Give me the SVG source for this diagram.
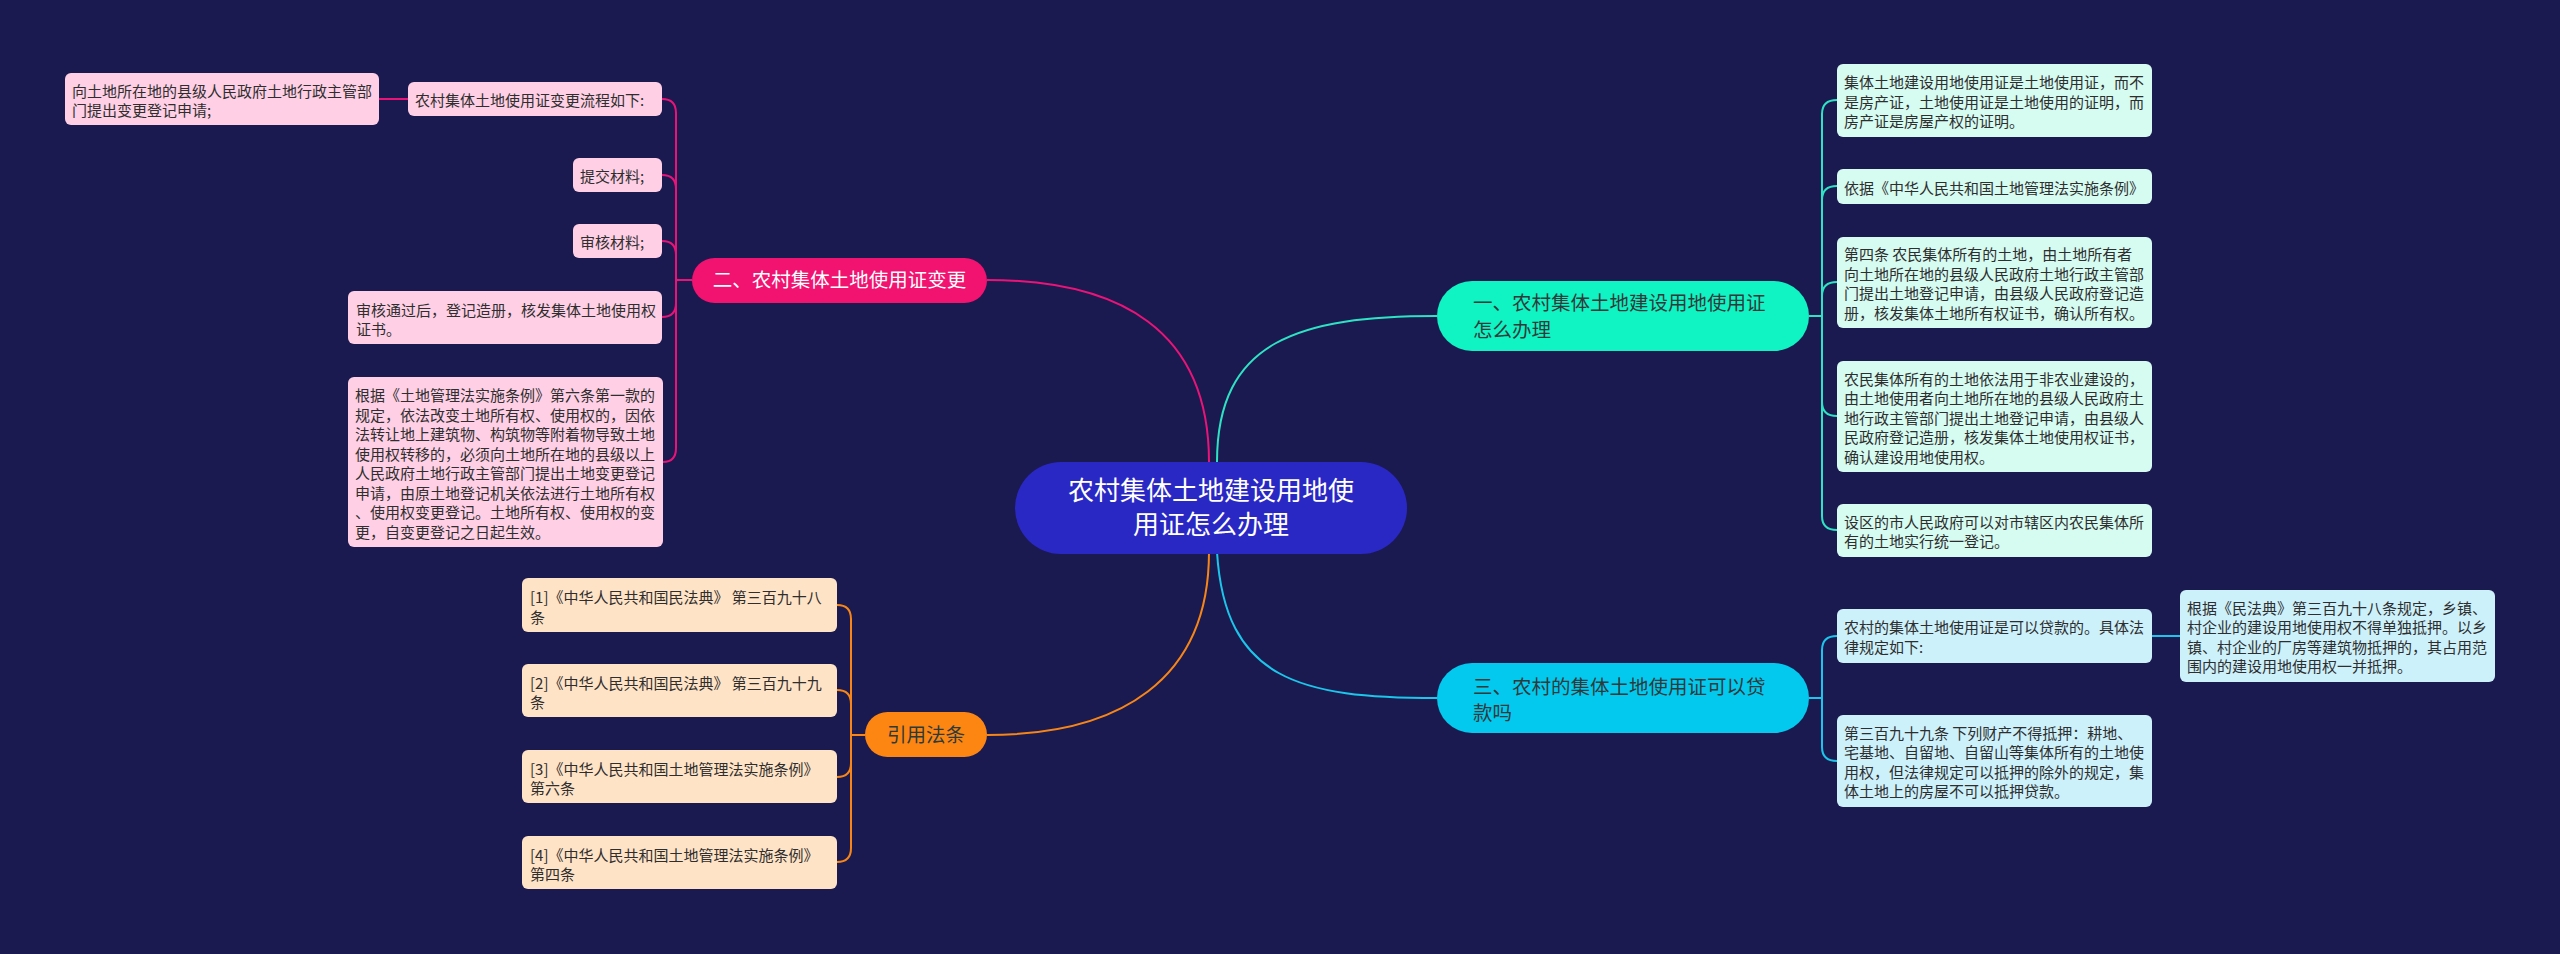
<svg xmlns="http://www.w3.org/2000/svg" width="2560" height="954" viewBox="0 0 2560 954">
<style>
text{font-family:"Noto Sans CJK SC","Noto Sans",sans-serif;}
.c{font-size:15px;fill:#2e2e2e;}
.b{font-size:19.5px;fill:#2e3a3a;}
.pk{fill:#ffd0e5;}
.tl{fill:#d6fbf1;}
.cy{fill:#cdf1fb;}
.or{fill:#ffe3c6;}
.lp{fill:none;stroke:#ea1478;stroke-width:2;}
.lt{fill:none;stroke:#2ee3c3;stroke-width:2;}
.lc{fill:none;stroke:#1cc6ea;stroke-width:2;}
.lo{fill:none;stroke:#f88617;stroke-width:2;}
</style>
<rect width="2560" height="954" fill="#1a1a50"/>
<g id="connectors">
<path class="lp" d="M1209,462 C1209,330 1120,280 987,280"/>
<path class="lt" d="M1217,462 C1217,340 1300,316 1437,316"/>
<path class="lc" d="M1217,552 C1225,680 1300,698 1437,698"/>
<path class="lo" d="M1209,552 C1209,680 1120,735 987,735"/>
<path class="lp" d="M692,280 L676,280"/>
<path class="lp" d="M676,280 L676,113 Q676,99 662,99"/>
<path class="lp" d="M676,280 L676,189 Q676,175 662,175"/>
<path class="lp" d="M676,280 L676,255 Q676,241 662,241"/>
<path class="lp" d="M676,280 L676,303 Q676,317 662,317"/>
<path class="lp" d="M676,280 L676,448 Q676,462 663,462"/>
<path class="lp" d="M408,99 L379,99"/>
<path class="lt" d="M1809,316 L1822,316"/>
<path class="lt" d="M1822,316 L1822,114 Q1822,100 1837,100"/>
<path class="lt" d="M1822,316 L1822,200 Q1822,186 1837,186"/>
<path class="lt" d="M1822,316 L1822,296 Q1822,282 1837,282"/>
<path class="lt" d="M1822,316 L1822,402 Q1822,416 1837,416"/>
<path class="lt" d="M1822,316 L1822,516 Q1822,530 1837,530"/>
<path class="lc" d="M1809,698 L1822,698"/>
<path class="lc" d="M1822,698 L1822,650 Q1822,636 1837,636"/>
<path class="lc" d="M1822,698 L1822,747 Q1822,761 1837,761"/>
<path class="lc" d="M2152,636 L2180,636"/>
<path class="lo" d="M865,735 L851,735"/>
<path class="lo" d="M851,735 L851,619 Q851,605 837,605"/>
<path class="lo" d="M851,735 L851,704 Q851,690 837,690"/>
<path class="lo" d="M851,735 L851,763 Q851,777 837,777"/>
<path class="lo" d="M851,735 L851,848 Q851,862 837,862"/>
</g>
<g id="root">
<rect x="1015" y="462" width="392" height="92" rx="46" fill="#2a28c4"/>
<text x="1211" y="500" font-size="26" fill="#ffffff" text-anchor="middle">农村集体土地建设用地使</text>
<text x="1211" y="534" font-size="26" fill="#ffffff" text-anchor="middle">用证怎么办理</text>
</g>
<g id="branch2">
<rect x="692" y="258" width="295" height="45" rx="22.5" fill="#f2126f"/>
<text x="839.5" y="287" font-size="19.5" fill="#ffffff" text-anchor="middle">二、农村集体土地使用证变更</text>
</g>
<g id="p1"><rect class="pk" x="408" y="82" width="254" height="34" rx="6"/><text class="c" x="415" y="106">农村集体土地使用证变更流程如下:</text></g>
<g id="p1a"><rect class="pk" x="65" y="73" width="314" height="52" rx="6"/><text class="c" x="72" y="96.5">向土地所在地的县级人民政府土地行政主管部</text><text class="c" x="72" y="116">门提出变更登记申请;</text></g>
<g id="p2"><rect class="pk" x="573" y="158" width="89" height="34" rx="6"/><text class="c" x="580" y="182">提交材料;</text></g>
<g id="p3"><rect class="pk" x="573" y="224" width="89" height="34" rx="6"/><text class="c" x="580" y="248">审核材料;</text></g>
<g id="p4"><rect class="pk" x="348" y="291" width="314" height="53" rx="6"/><text class="c" x="356" y="315.5">审核通过后，登记造册，核发集体土地使用权</text><text class="c" x="356" y="335">证书。</text></g>
<g id="p5"><rect class="pk" x="348" y="377" width="315" height="170" rx="6"/>
<text class="c" x="355" y="401">根据《土地管理法实施条例》第六条第一款的</text>
<text class="c" x="355" y="420.5">规定，依法改变土地所有权、使用权的，因依</text>
<text class="c" x="355" y="440">法转让地上建筑物、构筑物等附着物导致土地</text>
<text class="c" x="355" y="459.5">使用权转移的，必须向土地所在地的县级以上</text>
<text class="c" x="355" y="479">人民政府土地行政主管部门提出土地变更登记</text>
<text class="c" x="355" y="498.5">申请，由原土地登记机关依法进行土地所有权</text>
<text class="c" x="355" y="518">、使用权变更登记。土地所有权、使用权的变</text>
<text class="c" x="355" y="537.5">更，自变更登记之日起生效。</text></g>
<g id="branch1">
<rect x="1437" y="281" width="372" height="70" rx="35" fill="#10f3c3"/>
<text class="b" x="1473" y="310">一、农村集体土地建设用地使用证</text>
<text class="b" x="1473" y="337">怎么办理</text>
</g>
<g id="t1"><rect class="tl" x="1837" y="64" width="315" height="73" rx="6"/>
<text class="c" x="1844" y="88">集体土地建设用地使用证是土地使用证，而不</text>
<text class="c" x="1844" y="107.5">是房产证，土地使用证是土地使用的证明，而</text>
<text class="c" x="1844" y="127">房产证是房屋产权的证明。</text></g>
<g id="t2"><rect class="tl" x="1837" y="169" width="315" height="35" rx="6"/>
<text class="c" x="1844" y="193.5">依据《中华人民共和国土地管理法实施条例》</text></g>
<g id="t3"><rect class="tl" x="1837" y="237" width="315" height="91" rx="6"/>
<text class="c" x="1844" y="260.25">第四条 农民集体所有的土地，由土地所有者</text>
<text class="c" x="1844" y="279.75">向土地所在地的县级人民政府土地行政主管部</text>
<text class="c" x="1844" y="299.25">门提出土地登记申请，由县级人民政府登记造</text>
<text class="c" x="1844" y="318.75">册，核发集体土地所有权证书，确认所有权。</text></g>
<g id="t4"><rect class="tl" x="1837" y="361" width="315" height="111" rx="6"/>
<text class="c" x="1844" y="384.5">农民集体所有的土地依法用于非农业建设的，</text>
<text class="c" x="1844" y="404">由土地使用者向土地所在地的县级人民政府土</text>
<text class="c" x="1844" y="423.5">地行政主管部门提出土地登记申请，由县级人</text>
<text class="c" x="1844" y="443">民政府登记造册，核发集体土地使用权证书，</text>
<text class="c" x="1844" y="462.5">确认建设用地使用权。</text></g>
<g id="t5"><rect class="tl" x="1837" y="504" width="315" height="53" rx="6"/>
<text class="c" x="1844" y="527.75">设区的市人民政府可以对市辖区内农民集体所</text>
<text class="c" x="1844" y="547.25">有的土地实行统一登记。</text></g>
<g id="branch3">
<rect x="1437" y="663" width="372" height="70" rx="35" fill="#03c9ee"/>
<text class="b" x="1473" y="694">三、农村的集体土地使用证可以贷</text>
<text class="b" x="1473" y="720">款吗</text>
</g>
<g id="c1"><rect class="cy" x="1837" y="609" width="315" height="54" rx="6"/>
<text class="c" x="1844" y="633">农村的集体土地使用证是可以贷款的。具体法</text>
<text class="c" x="1844" y="652.5">律规定如下:</text></g>
<g id="c1a"><rect class="cy" x="2180" y="590" width="315" height="92" rx="6"/>
<text class="c" x="2187" y="613.75">根据《民法典》第三百九十八条规定，乡镇、</text>
<text class="c" x="2187" y="633.25">村企业的建设用地使用权不得单独抵押。以乡</text>
<text class="c" x="2187" y="652.75">镇、村企业的厂房等建筑物抵押的，其占用范</text>
<text class="c" x="2187" y="672.25">围内的建设用地使用权一并抵押。</text></g>
<g id="c2"><rect class="cy" x="1837" y="715" width="315" height="92" rx="6"/>
<text class="c" x="1844" y="738.75">第三百九十九条 下列财产不得抵押：耕地、</text>
<text class="c" x="1844" y="758.25">宅基地、自留地、自留山等集体所有的土地使</text>
<text class="c" x="1844" y="777.75">用权，但法律规定可以抵押的除外的规定，集</text>
<text class="c" x="1844" y="797.25">体土地上的房屋不可以抵押贷款。</text></g>
<g id="branch4">
<rect x="865" y="712" width="122" height="45" rx="22.5" fill="#fd8612"/>
<text class="b" x="926" y="742" text-anchor="middle">引用法条</text>
</g>
<g id="o1"><rect class="or" x="522" y="578" width="315" height="54" rx="6"/>
<text class="c" x="530" y="603">[1]《中华人民共和国民法典》 第三百九十八</text>
<text class="c" x="530" y="622.5">条</text></g>
<g id="o2"><rect class="or" x="522" y="664" width="315" height="53" rx="6"/>
<text class="c" x="530" y="688.5">[2]《中华人民共和国民法典》 第三百九十九</text>
<text class="c" x="530" y="708">条</text></g>
<g id="o3"><rect class="or" x="522" y="750" width="315" height="53" rx="6"/>
<text class="c" x="530" y="774.5">[3]《中华人民共和国土地管理法实施条例》</text>
<text class="c" x="530" y="794">第六条</text></g>
<g id="o4"><rect class="or" x="522" y="836" width="315" height="53" rx="6"/>
<text class="c" x="530" y="860.5">[4]《中华人民共和国土地管理法实施条例》</text>
<text class="c" x="530" y="880">第四条</text></g>
</svg>
